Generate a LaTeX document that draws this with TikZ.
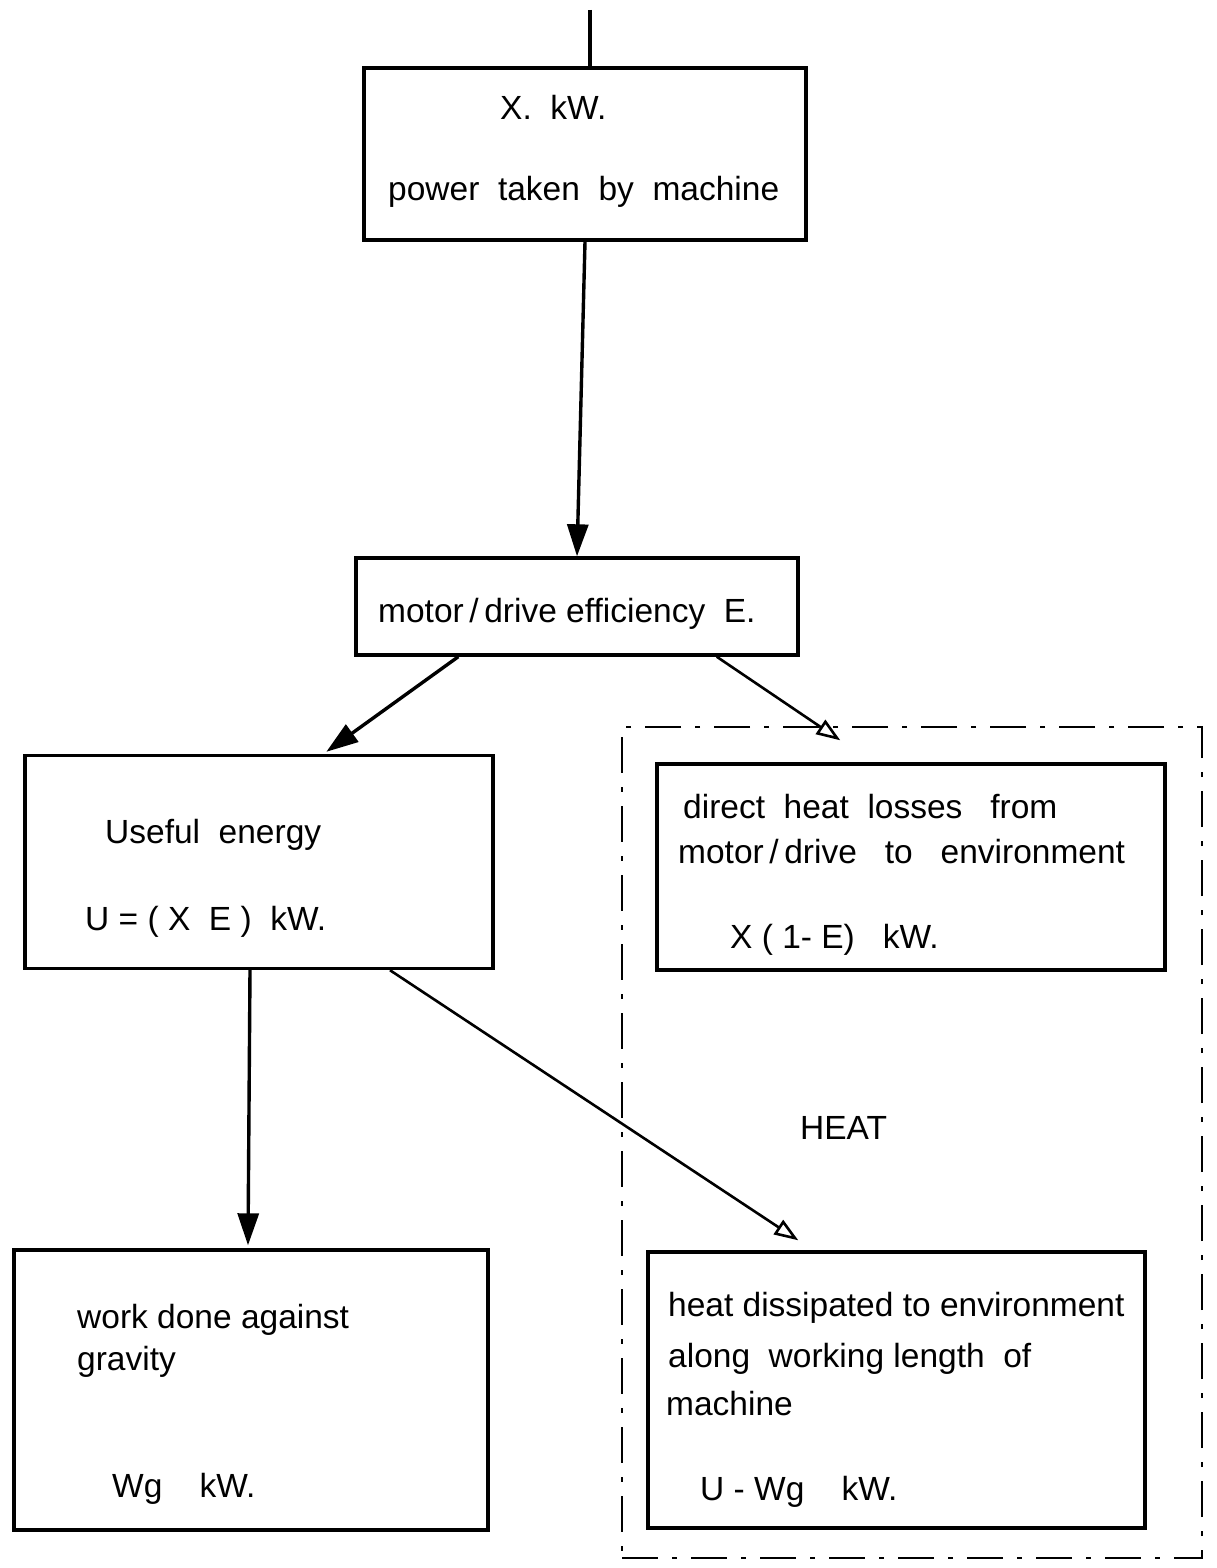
\documentclass[tikz,border=0pt]{standalone}
\usepackage{fontspec}
\setmainfont{Liberation Sans}
\usetikzlibrary{arrows.meta}
\begin{document}
\begin{tikzpicture}[x=1pt,y=-1pt,
  box/.style={draw,line width=3.4pt,rectangle,inner sep=0pt},
  lbl/.style={anchor=base west,inner sep=0pt,font=\fontsize{33.5}{38}\selectfont},
  arrfill/.style={line width=3.4pt,-{Triangle[length=32pt,width=21pt]}},
  arropen/.style={line width=2.6pt,-{Triangle[open,length=24pt,width=17pt,line width=2.6pt]}},
  encl/.style={line width=2.4pt,dash pattern=on 36pt off 14pt on 5pt off 14pt}]
\path[use as bounding box] (0,0) rectangle (1216,1568);
% boxes
\node[box,minimum width=442pt,minimum height=172pt] (top) at (585,154) {};
\node[box,minimum width=442pt,minimum height=97pt] (motor) at (577,606.5) {};
\node[box,minimum width=468pt,minimum height=213pt] (useful) at (259,862) {};
\node[box,minimum width=508pt,minimum height=206pt] (direct) at (911,867) {};
\node[box,minimum width=474pt,minimum height=280pt] (work) at (251,1390) {};
\node[box,minimum width=497pt,minimum height=276pt] (heat) at (896.5,1390) {};
\node[encl,draw,rectangle,inner sep=0pt,minimum width=580pt,minimum height=831pt] (encl) at (912,1142.5) {};
% texts
\node[lbl] (t1) at (500,120) {X.\ \ kW.};
\node[lbl] (t2) at (388,200) {power\ \ taken\ \ by\ \ machine};
\node[lbl] (t3) at (378,622) {motor\,/\,drive\ efficiency\ \ E.};
\node[lbl] (t4) at (105,843) {Useful\ \ energy};
\node[lbl] (t5) at (85,930) {U = ( X\ \ E )\ \ kW.};
\node[lbl] (t6) at (683,818) {direct\ \ heat\ \ losses\ \ \ from};
\node[lbl] (t7) at (678,863) {motor\,/\,drive\ \ \ to\ \ \ environment};
\node[lbl] (t8) at (730,948) {X ( 1- E)\ \ \ kW.};
\node[lbl] (t9) at (800,1139) {HEAT};
\node[lbl] (t10) at (77,1328) {work\ done\ against};
\node[lbl] (t11) at (77,1370) {gravity};
\node[lbl] (t12) at (112,1497) {Wg\ \ \ \ kW.};
\node[lbl] (t13) at (668,1316) {heat dissipated to environment};
\node[lbl] (t14) at (668,1367) {along\ \ working length\ \ of};
\node[lbl] (t15) at (666,1415) {machine};
\node[lbl] (t16) at (700,1500) {U - Wg\ \ \ \ kW.};
% connectors
\coordinate (in) at (590,10);
\draw[line width=3.4pt] (in) -- (in |- top.north);
\draw[arrfill] (top.south) -- (motor.north);
\draw[arrfill] ([xshift=104pt]motor.south west) -- ([xshift=303pt,yshift=2pt]useful.north west);
\draw[arropen] ([xshift=-83pt]motor.south east) -- ([xshift=185pt,yshift=22pt]direct.north west);
\draw[arrfill] ([xshift=-9pt]useful.south) -- ([xshift=-3pt,yshift=3pt]work.north);
\draw[arropen] ([xshift=131pt]useful.south) -- ([xshift=152pt,yshift=10pt]heat.north west);
\end{tikzpicture}
\end{document}
